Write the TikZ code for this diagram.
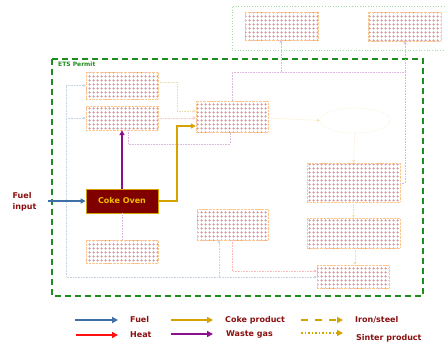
\documentclass[tikz,border=0pt]{standalone}
\usepackage{fontspec}
\setmainfont{DejaVu Sans}
\usetikzlibrary{patterns,arrows.meta,shapes.geometric}
\definecolor{fuelblue}{HTML}{3F6FA8}
\definecolor{heatred}{HTML}{FF1010}
\definecolor{cokegold}{HTML}{D4A300}
\definecolor{wastepurple}{HTML}{8B108B}
\definecolor{etsgreen}{HTML}{1E8C1E}
\definecolor{txtred}{HTML}{8B1010}
\definecolor{ovenred}{HTML}{800000}
\definecolor{ghostpat}{HTML}{D08A90}
\pgfdeclarepatternformonly{plusgrid}{\pgfqpoint{0pt}{0pt}}{\pgfqpoint{4pt}{4pt}}{\pgfqpoint{4pt}{4pt}}{%
  \pgfsetlinewidth{0.5pt}%
  \pgfpathmoveto{\pgfqpoint{0.5pt}{2pt}}\pgfpathlineto{\pgfqpoint{3.5pt}{2pt}}%
  \pgfpathmoveto{\pgfqpoint{2pt}{0.5pt}}\pgfpathlineto{\pgfqpoint{2pt}{3.5pt}}%
  \pgfusepath{stroke}}
\begin{document}
\begin{tikzpicture}[x=1pt,y=-1pt,
  ghost/.style={draw=orange!45, densely dotted, pattern=plusgrid, pattern color=ghostpat, inner sep=0pt},
  gline/.style={densely dotted, line width=0.6pt, -{Stealth[length=3pt,width=3pt]}},
  gnoarrow/.style={densely dotted, line width=0.6pt},
  flow/.style={line width=1.3pt, -{Triangle[length=5pt,width=5pt]}},
  legarrow/.style={line width=1.5pt, -{Triangle[length=6pt,width=6pt]}},
  legtext/.style={anchor=west, text=txtred, font=\bfseries\fontsize{8}{9}\selectfont, inner sep=0pt}
]
\useasboundingbox (0,0) rectangle (445,349);

% top faint dotted region
\draw[green!55!black, opacity=0.35, dotted, line width=0.7pt] (447,6) -- (232,6) -- (232,50) -- (447,50);
\node[ghost, minimum width=73pt, minimum height=28pt] (tA) at (281.5,26) {};
\node[ghost, minimum width=73pt, minimum height=29pt] (tB) at (404.5,26.5) {};

% ETS permit box
\draw[etsgreen, dashed, dash pattern=on 6pt off 4pt, line width=1.3pt] (52,59) rectangle (423,296);
\node[anchor=west, inner sep=0pt, text=etsgreen, font=\bfseries\fontsize{6}{7}\selectfont] (ets) at (58,64) {ETS Permit};

% ghost boxes
\node[ghost, minimum width=72pt, minimum height=27pt] (b1) at (122,85.5) {};
\node[ghost, minimum width=72pt, minimum height=24pt] (b2) at (122,118) {};
\node[ghost, minimum width=72pt, minimum height=31pt] (b3) at (232,116.5) {};
\node[draw=cokegold!35, densely dotted, ellipse, minimum width=70pt, minimum height=25pt, inner sep=0pt] (ell) at (355,120.5) {};
\node[ghost, minimum width=93pt, minimum height=39pt] (b4) at (353.5,182.5) {};
\node[ghost, minimum width=93pt, minimum height=30pt] (b5) at (353.5,233) {};
\node[ghost, minimum width=71pt, minimum height=31pt] (b6) at (232.5,224.5) {};
\node[ghost, minimum width=72pt, minimum height=23pt] (b7) at (122,251.5) {};
\node[ghost, minimum width=72pt, minimum height=23pt] (b8) at (353,276.5) {};

% coke oven
\node[draw=cokegold, line width=0.8pt, fill=ovenred, minimum width=72pt, minimum height=24pt, inner sep=0pt,
      text={rgb,255:red,240;green,190;blue,0}, font=\bfseries\fontsize{8}{9}\selectfont] (oven) at (122,201) {Coke Oven};

% fuel input
\node[align=left, text=txtred, font=\bfseries\fontsize{8}{11}\selectfont, inner sep=0pt] (fuel) at (24.5,201.5) {Fuel\\input};
\coordinate (fin) at (48,201);

% faint connectors
\coordinate (lb) at (66,85.5);
\coordinate (lbb) at (66,277);
\coordinate (lb2) at (66,118);
\draw[gline, fuelblue!30] (lb) -- (b1.west);
\draw[gline, fuelblue!30] (lb2) -- (b2.west);
\draw[gline, fuelblue!30] (lb) -- (lbb) -- (lbb -| b8.west);
\coordinate (bu) at (219,277);
\draw[gline, fuelblue!30] (bu) -- (bu |- b6.south);
\coordinate (r6) at (232,240);
\draw[gline, heatred!30] (r6) |- (b8.west |- 0,271);
\draw[gline, heatred!25] (b2.east) -- (b3.west |- b2.east);
\coordinate (g1) at (177,82);
\coordinate (g2) at (177,111);
\draw[gline, cokegold!35] (b1.east |- g1) -- (g1) -- (g2) -- (b3.west |- g2);
\draw[gline, cokegold!35] (b3.east |- 0,118) -- (ell.west);
\draw[gline, cokegold!35] (ell.south) -- (b4.north);
\draw[gline, cokegold!35] (b4.south) -- (b5.north);
\draw[gline, cokegold!35] (b5.south -| 355,0) -- (b8.north -| 355,0);
\coordinate (p1) at (232,72);
\coordinate (p2) at (405,72);
\coordinate (p3) at (405,183);
\draw[gnoarrow, wastepurple!30] (b3.north -| p1) -- (p1) -- (p2);
\draw[gline, wastepurple!30] (281,72) -- (tA.south -| 281,0);
\draw[gline, wastepurple!30] (p2) -- (tB.south -| p2);
\draw[gnoarrow, wastepurple!30] (p2) -- (p3) -- (b4.east |- p3);
\coordinate (q1) at (128,144);
\coordinate (q2) at (230,144);
\draw[gnoarrow, wastepurple!30] (b2.south -| q1) -- (q1) -- (q2) -- (b3.south -| q2);
\draw[gnoarrow, wastepurple!30] (oven.south) -- (b7.north);

% main flows
\draw[flow, fuelblue] (fin) -- (oven.west);
\draw[flow, wastepurple] (oven.north) -- (b2.south);
\coordinate (c1) at (177,201);
\coordinate (c2) at (177,126);
\draw[flow, cokegold] (oven.east) -- (c1) -- (c2) -- (b3.west |- c2);

% legend
\draw[legarrow, fuelblue] (75,320) -- (118,320);
\node[legtext] (lfuel) at (130,320) {Fuel};
\draw[legarrow, heatred] (76,335) -- (118,335);
\node[legtext] (lheat) at (130,335) {Heat};
\draw[legarrow, cokegold] (171,320) -- (213,320);
\node[legtext] (lcoke) at (225,320) {Coke product};
\draw[legarrow, wastepurple] (171,334) -- (213,334);
\node[legtext] (lwaste) at (226,334) {Waste gas};
\draw[legarrow, cokegold, dash pattern=on 7pt off 7pt] (301,320) -- (343,320);
\node[legtext] (liron) at (355,320) {Iron/steel};
\draw[legarrow, cokegold, dash pattern=on 1.5pt off 2pt] (301,333) -- (343,333);
\node[legtext] (lsinter) at (356,338) {Sinter product};
\end{tikzpicture}
\end{document}
